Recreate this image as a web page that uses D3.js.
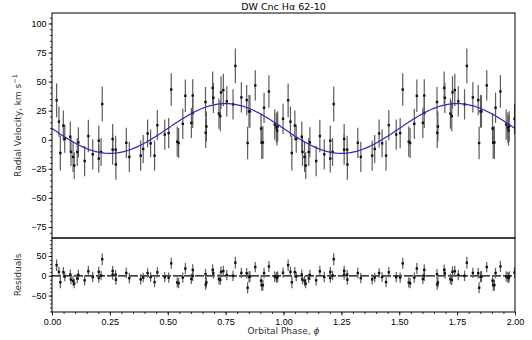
<!DOCTYPE html>
<html>
<head>
<meta charset="utf-8">
<script src="https://cdn.jsdelivr.net/npm/d3@7"></script>
<style>
  body { margin: 0; background: #fff; }
  svg { font-family: "DejaVu Sans", sans-serif; }
</style>
</head>
<body>
<div id="chart"></div>
<script>
// one orbit of measurements; plotted twice (phase 0-1 and 1-2)
const phase = [0.020, 0.030, 0.036, 0.049, 0.055, 0.079, 0.082, 0.091, 0.096, 0.109,
  0.114, 0.141, 0.157, 0.176, 0.202, 0.202, 0.212, 0.217, 0.262, 0.262,
  0.275, 0.276, 0.321, 0.334, 0.383, 0.394, 0.413, 0.426, 0.443, 0.455,
  0.487, 0.504, 0.515, 0.541, 0.547, 0.565, 0.576, 0.602, 0.608, 0.608,
  0.664, 0.667, 0.663, 0.694, 0.697, 0.721, 0.727, 0.730, 0.740, 0.755,
  0.782, 0.792, 0.818, 0.841, 0.845, 0.851, 0.855, 0.878, 0.903, 0.906,
  0.911, 0.916, 0.937, 0.962, 0.969, 0.972, 0.975, 0.998];
const velocity = [33.9, 15.6, -11.4, 12.2, 0.8, 2.6, -10.5, -14.8, -22.2, -10.5,
  -2.3, -18.3, 3.2, -12.5, -0.8, -16.2, -10.5, 30.7, 0.6, -8.5,
  -8.5, -21.3, -2.6, -14.8, -13.7, -7.9, 5.4, -3.1, -13.7, 12.5,
  4.5, 5.7, 43.2, -1.7, -2.8, 13.7, 37.8, 14.5, 38.0, 23.0,
  6.0, 11.4, 32.4, 44.6, 36.1, 22.5, 20.3, 40.7, 42.7, 33.0,
  30.4, 63.5, 36.4, 34.1, -2.8, 24.4, 24.4, 46.7, 9.6, -2.5,
  -2.3, 27.5, 41.5, 13.0, 10.5, 8.0, 11.5, 18.0];
const velErr = [14.5, 13, 15, 13, 12, 13, 12, 13, 11.5, 12,
  13, 13, 14, 13, 13, 12, 12, 15, 13, 13,
  12, 13, 13, 13, 13, 12, 12, 12, 13, 13,
  13, 13, 14, 13, 13, 13, 14, 13, 14, 13,
  13, 13, 13, 14, 13, 13, 13, 14, 14, 13,
  13, 15, 13, 13, 14, 14, 14, 13, 13, 14,
  14, 13, 14, 13, 13, 13, 13, 13];

// fitted sine: v = gamma - K sin(2 pi phi)
const gamma = 9.7;
const semiAmp = 21.4;

const phaseTicks = [0, 0.25, 0.5, 0.75, 1.0, 1.25, 1.5, 1.75, 2.0];
const velTicks = [-75, -50, -25, 0, 25, 50, 75, 100];
const resTicks = [-50, 0, 50];

const W = 532, H = 340;
const left = 52, right = 515;
const topY = 13, midY = 238, botY = 312;

const svg = d3.select('#chart').append('svg').attr('width', W).attr('height', H);

const x = d3.scaleLinear().domain([0, 2]).range([left, right]);
const y = d3.scaleLinear().domain([-84.5, 109]).range([midY, topY]);
const yr = d3.scaleLinear().domain([-91.5, 95.5]).range([botY, midY]);

const model = p => gamma - semiAmp * Math.sin(2 * Math.PI * p);

const pts = [];
[0, 1].forEach(c => phase.forEach((p, i) => {
  pts.push({ p: p + c, v: velocity[i], e: velErr[i], r: velocity[i] - model(p) });
}));

svg.append('clipPath').attr('id', 'clipTop').append('rect')
  .attr('x', left).attr('y', topY).attr('width', right - left).attr('height', midY - topY);
svg.append('clipPath').attr('id', 'clipBot').append('rect')
  .attr('x', left).attr('y', midY).attr('width', right - left).attr('height', botY - midY);

// ---- top panel ----
const gTop = svg.append('g').attr('clip-path', 'url(#clipTop)');
gTop.selectAll('.eb').data(pts).enter().append('line')
  .attr('x1', d => x(d.p)).attr('x2', d => x(d.p))
  .attr('y1', d => y(d.v - d.e)).attr('y2', d => y(d.v + d.e))
  .attr('stroke', '#5c5c5c').attr('stroke-width', 1.2);
gTop.selectAll('.pt').data(pts).enter().append('rect')
  .attr('x', d => x(d.p) - 1.2).attr('y', d => y(d.v) - 1.2)
  .attr('width', 2.4).attr('height', 2.4).attr('fill', '#111');

const curve = d3.range(0, 2.0001, 0.005);
gTop.append('path').datum(curve)
  .attr('d', d3.line().x(p => x(p)).y(p => y(model(p))))
  .attr('fill', 'none').attr('stroke', '#2a2ac0').attr('stroke-width', 1.2);

// ---- residual panel ----
const gBot = svg.append('g').attr('clip-path', 'url(#clipBot)');
gBot.append('line').attr('x1', left).attr('x2', right).attr('y1', yr(0)).attr('y2', yr(0))
  .attr('stroke', '#000').attr('stroke-width', 1.2).attr('stroke-dasharray', '9,2');
gBot.selectAll('.eb').data(pts).enter().append('line')
  .attr('x1', d => x(d.p)).attr('x2', d => x(d.p))
  .attr('y1', d => yr(d.r - d.e)).attr('y2', d => yr(d.r + d.e))
  .attr('stroke', '#5c5c5c').attr('stroke-width', 1.2);
gBot.selectAll('.pt').data(pts).enter().append('rect')
  .attr('x', d => x(d.p) - 1.2).attr('y', d => yr(d.r) - 1.2)
  .attr('width', 2.4).attr('height', 2.4).attr('fill', '#111');

// ---- axes ----
function styleAxis(g) {
  g.select('.domain').remove();
  g.selectAll('line').attr('stroke', '#000').attr('stroke-width', 0.8);
  g.selectAll('text').attr('fill', '#000').style('font-size', '9px');
}

svg.append('g').attr('transform', `translate(${left},0)`)
  .call(d3.axisLeft(y).tickValues(d3.range(-80, 110, 5)).tickSize(2).tickFormat(''))
  .call(styleAxis);
svg.append('g').attr('transform', `translate(${left},0)`)
  .call(d3.axisLeft(y).tickValues(velTicks).tickSize(3.5).tickPadding(2).tickFormat(d3.format('d')))
  .call(styleAxis);

svg.append('g').attr('transform', `translate(${left},0)`)
  .call(d3.axisLeft(yr).tickValues(d3.range(-90, 95, 10)).tickSize(2).tickFormat(''))
  .call(styleAxis);
svg.append('g').attr('transform', `translate(${left},0)`)
  .call(d3.axisLeft(yr).tickValues(resTicks).tickSize(3.5).tickPadding(2).tickFormat(d3.format('d')))
  .call(styleAxis);

svg.append('g').attr('transform', `translate(0,${botY})`)
  .call(d3.axisBottom(x).tickValues(d3.range(0, 2.001, 0.05)).tickSize(2).tickFormat(''))
  .call(styleAxis);
svg.append('g').attr('transform', `translate(0,${botY})`)
  .call(d3.axisBottom(x).tickValues(phaseTicks).tickSize(3.5).tickPadding(3).tickFormat(d3.format('.2f')))
  .call(styleAxis);

// frames
[[topY, midY], [midY, botY]].forEach(([a, b]) => {
  svg.append('rect').attr('x', left).attr('y', a).attr('width', right - left).attr('height', b - a)
    .attr('fill', 'none').attr('stroke', '#000').attr('stroke-width', 1);
});

// labels
svg.append('text').attr('x', (left + right) / 2).attr('y', 10)
  .attr('text-anchor', 'middle').style('font-size', '9.5px').attr('fill', '#000')
  .text('DW Cnc Hα 62-10');

const yl = svg.append('text')
  .attr('transform', `translate(21,${(topY + midY) / 2}) rotate(-90)`)
  .attr('text-anchor', 'middle').style('font-size', '9px').attr('fill', '#333');
yl.append('tspan').text('Radial Velocity, km s');
yl.append('tspan').attr('dy', -4).style('font-size', '6.5px').text('−1');

svg.append('text')
  .attr('transform', `translate(21,${(midY + botY) / 2}) rotate(-90)`)
  .attr('text-anchor', 'middle').style('font-size', '9px').attr('fill', '#333')
  .text('Residuals');

const xl = svg.append('text').attr('x', (left + right) / 2).attr('y', 334)
  .attr('text-anchor', 'middle').style('font-size', '9px').attr('fill', '#333');
xl.append('tspan').text('Orbital Phase, ');
xl.append('tspan').style('font-style', 'italic').text('ϕ');
</script>
</body>
</html>
